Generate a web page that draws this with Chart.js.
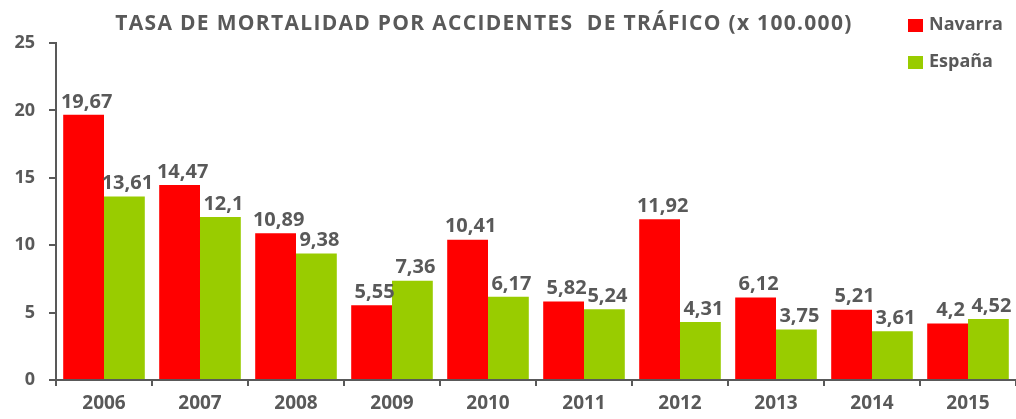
<!DOCTYPE html>
<html>
<head>
<meta charset="utf-8">
<script src="https://cdn.jsdelivr.net/npm/chart.js@4.4.1/dist/chart.umd.min.js"></script>
<style>
  html, body { margin: 0; padding: 0; background: #fff; }
  #wrap { width: 1016px; height: 419px; position: relative; overflow: hidden; }
</style>
</head>
<body>
<div id="wrap"><canvas id="chart" width="1016" height="419"></canvas></div>
<script>
const years = ['2006', '2007', '2008', '2009', '2010', '2011', '2012', '2013', '2014', '2015'];
const navarra = [19.67, 14.47, 10.89, 5.55, 10.41, 5.82, 11.92, 6.12, 5.21, 4.2];
const espana = [13.61, 12.1, 9.38, 7.36, 6.17, 5.24, 4.31, 3.75, 3.61, 4.52];
const yTicks = [0, 5, 10, 15, 20, 25];

const gris = '#595959';
const fuente = '"Open Sans", "Liberation Sans", sans-serif';

// etiquetas de datos, titulo y leyenda
const extras = {
  id: 'extras',
  afterDatasetsDraw(chart) {
    const ctx = chart.ctx;
    ctx.save();
    ctx.fillStyle = gris;
    ctx.font = 'bold 20px ' + fuente;
    ctx.textAlign = 'center';
    ctx.textBaseline = 'bottom';
    chart.data.datasets.forEach((ds, i) => {
      chart.getDatasetMeta(i).data.forEach((bar, j) => {
        ctx.fillText(String(ds.data[j]).replace('.', ','), bar.x + 3, bar.y - 3);
      });
    });

    ctx.font = 'bold 21px ' + fuente;
    ctx.letterSpacing = '1.3px';
    ctx.textBaseline = 'middle';
    ctx.fillText('TASA DE MORTALIDAD POR ACCIDENTES  DE TRÁFICO (x 100.000)', 484, 24);
    ctx.letterSpacing = '0px';

    ctx.textAlign = 'left';
    ctx.font = 'bold 18px ' + fuente;
    chart.data.datasets.forEach((ds, i) => {
      const y = 25 + i * 37;
      ctx.fillStyle = ds.backgroundColor;
      ctx.fillRect(908, y - 6, 15, 13);
      ctx.fillStyle = gris;
      ctx.fillText(ds.label, 929, y);
    });
    ctx.restore();
  }
};

new Chart(document.getElementById('chart'), {
  type: 'bar',
  data: {
    labels: years,
    datasets: [
      { label: 'Navarra', data: navarra, backgroundColor: '#FF0000' },
      { label: 'España', data: espana, backgroundColor: '#99CC00' }
    ]
  },
  options: {
    responsive: false,
    animation: false,
    layout: { padding: { top: 43, right: -9, left: 0, bottom: 0 } },
    datasets: { bar: { categoryPercentage: 0.85, barPercentage: 1 } },
    plugins: {
      legend: { display: false },
      title: { display: false },
      tooltip: { enabled: false }
    },
    scales: {
      x: {
        grid: { drawOnChartArea: false, tickLength: 6, color: gris, lineWidth: 2 },
        border: { color: gris, width: 2 },
        ticks: { color: gris, font: { family: fuente, size: 19, weight: 'bold' }, padding: 6 },
        afterFit(scale) { scale.height = 39; }
      },
      y: {
        min: 0,
        max: 25,
        afterBuildTicks(scale) { scale.ticks = yTicks.map(v => ({ value: v })); },
        grid: { drawOnChartArea: false, tickLength: 7, color: gris, lineWidth: 2 },
        border: { color: gris, width: 2 },
        ticks: { color: gris, font: { family: fuente, size: 18, weight: 'bold' }, padding: 14 },
        afterFit(scale) { scale.width = 56; }
      }
    }
  },
  plugins: [extras]
});
</script>
</body>
</html>
